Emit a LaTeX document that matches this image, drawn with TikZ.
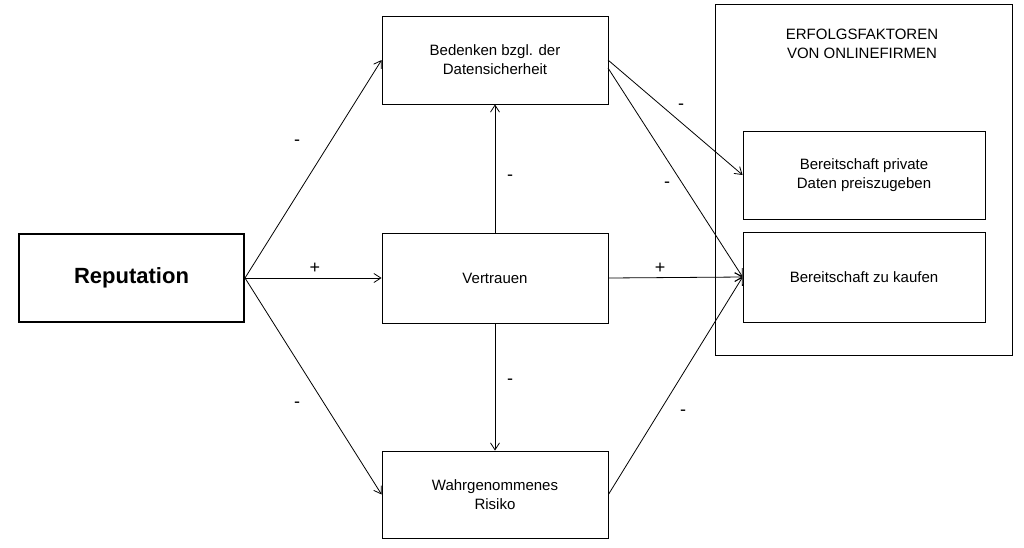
\documentclass[tikz,border=0pt]{standalone}
\usepackage{fontspec}
\usetikzlibrary{arrows.meta}
\setmainfont{Liberation Sans}
\begin{document}
\begin{tikzpicture}[x=1pt,y=-1pt,
  box/.style={draw,line width=0.8pt,align=center,font=\fontsize{15}{19}\selectfont},
  arr/.style={->,line width=0.8pt,>={Straight Barb[length=7pt,width=9pt]}},
  lab/.style={font=\fontsize{18}{20}\selectfont}]
\useasboundingbox (0,0) rectangle (1024,547);
\fill[white] (0,0) rectangle (1024,547);
\node[draw,line width=0.8pt,minimum width=297pt,minimum height=351pt,anchor=north west] (outer) at (715,4) {};
\node[align=center,font=\fontsize{15}{19}\selectfont] (title) at (862,44) {ERFOLGSFAKTOREN\\VON ONLINEFIRMEN};
\node[box,line width=2.5pt,minimum width=225pt,minimum height=88pt,font=\bfseries\fontsize{22}{26}\selectfont] (rep) at (131.5,278) {Reputation};
\node[box,minimum width=226pt,minimum height=88pt] (bed) at (495,60) {Bedenken bzgl. der\\Datensicherheit};
\node[box,minimum width=226pt,minimum height=90pt] (ver) at (495,278) {Vertrauen};
\node[box,minimum width=226pt,minimum height=87pt] (wah) at (495,494.5) {Wahrgenommenes\\Risiko};
\node[box,minimum width=242pt,minimum height=88pt] (bp) at (864,175) {Bereitschaft private\\Daten preiszugeben};
\node[box,minimum width=242pt,minimum height=90pt] (bk) at (864,277) {Bereitschaft zu kaufen};
\coordinate (r) at (245,278);
\draw[arr] (r) -- (bed.west);
\draw[arr] (r) -- (ver.west);
\draw[arr] (r) -- (wah.west);
\draw[arr] (ver.north) -- (bed.south);
\draw[arr] (ver.south) -- (wah.north);
\coordinate (b1) at (608,60);
\coordinate (b2) at (608,68);
\draw[arr] (b1) -- (bp.west);
\draw[arr] (b2) -- (bk.west);
\draw[arr] (ver.east) -- (bk.west);
\draw[arr] (wah.east) -- (bk.west);
\node[lab] (l1) at (297,143) {-};
\node[lab] (l2) at (315,268) {+};
\node[lab] (l3) at (297,405) {-};
\node[lab] (l4) at (510,178) {-};
\node[lab] (l5) at (510,382) {-};
\node[lab] (l6) at (681,107) {-};
\node[lab] (l7) at (667,185) {-};
\node[lab] (l8) at (660,268) {+};
\node[lab] (l9) at (683,413) {-};
\end{tikzpicture}
\end{document}
